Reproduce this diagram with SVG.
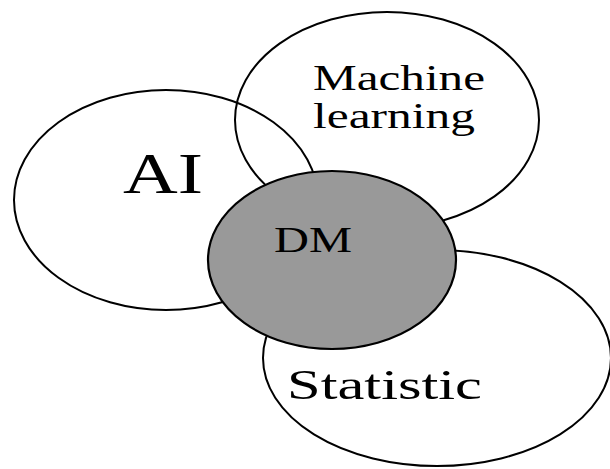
<svg xmlns="http://www.w3.org/2000/svg" width="610" height="469" viewBox="0 0 610 469">
  <style>
    .ring { fill: none; stroke: #000; stroke-width: 2; }
    .core { fill: #999999; stroke: #000; stroke-width: 2.2; }
    .lbl { font-family: "Liberation Serif", "Times New Roman", serif; fill: #000; }
  </style>
  <rect width="610" height="469" fill="#fff"/>

  <g id="ai">
    <ellipse class="ring" cx="166" cy="200" rx="152" ry="110"/>
    <text class="lbl" x="123" y="193" font-size="56" textLength="80" lengthAdjust="spacingAndGlyphs">AI</text>
  </g>

  <g id="machine-learning">
    <ellipse class="ring" cx="387" cy="120" rx="152" ry="108"/>
    <text class="lbl" x="313" y="90" font-size="35" textLength="172" lengthAdjust="spacingAndGlyphs">Machine</text>
    <text class="lbl" x="313" y="128" font-size="35" textLength="162" lengthAdjust="spacingAndGlyphs">learning</text>
  </g>

  <g id="statistic">
    <ellipse class="ring" cx="437" cy="358" rx="174" ry="108"/>
    <text class="lbl" x="287" y="399" font-size="42" textLength="195" lengthAdjust="spacingAndGlyphs">Statistic</text>
  </g>

  <g id="dm">
    <ellipse class="core" cx="332" cy="260" rx="124" ry="89"/>
    <text class="lbl" x="274" y="252" font-size="35" textLength="78" lengthAdjust="spacingAndGlyphs">DM</text>
  </g>
</svg>
